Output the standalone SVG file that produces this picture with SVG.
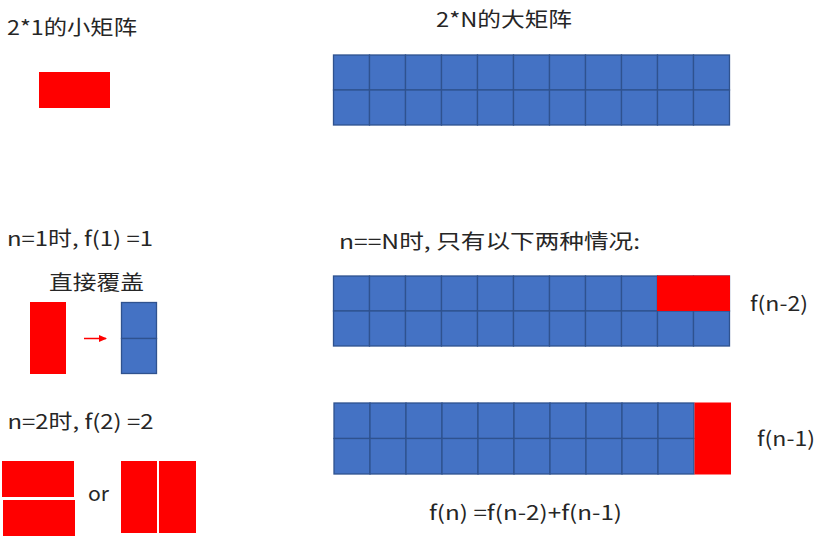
<svg xmlns="http://www.w3.org/2000/svg" width="819" height="550" viewBox="0 0 819 550">
<defs>
<style>
.t{font-family:"Noto Sans CJK SC","Liberation Sans",sans-serif;fill:#262626;font-size:20px}
.c{fill:#4472C4;stroke:#2F528F;stroke-width:1.3}
.r{fill:#FF0000}
</style>
<marker id="ah" markerWidth="8" markerHeight="8" refX="7" refY="4" orient="auto" markerUnits="userSpaceOnUse">
<path d="M0,0.5 L8,4 L0,7.5 Z" fill="#FF0000"/>
</marker>
<g id="row11">
<rect class="c" x="0" y="0" width="36" height="35"/>
<rect class="c" x="36" y="0" width="36" height="35"/>
<rect class="c" x="72" y="0" width="36" height="35"/>
<rect class="c" x="108" y="0" width="36" height="35"/>
<rect class="c" x="144" y="0" width="36" height="35"/>
<rect class="c" x="180" y="0" width="36" height="35"/>
<rect class="c" x="216" y="0" width="36" height="35"/>
<rect class="c" x="252" y="0" width="36" height="35"/>
<rect class="c" x="288" y="0" width="36" height="35"/>
<rect class="c" x="324" y="0" width="36" height="35"/>
<rect class="c" x="360" y="0" width="36" height="35"/>
</g>
<g id="row10">
<rect class="c" x="0" y="0" width="36" height="35.5"/>
<rect class="c" x="36" y="0" width="36" height="35.5"/>
<rect class="c" x="72" y="0" width="36" height="35.5"/>
<rect class="c" x="108" y="0" width="36" height="35.5"/>
<rect class="c" x="144" y="0" width="36" height="35.5"/>
<rect class="c" x="180" y="0" width="36" height="35.5"/>
<rect class="c" x="216" y="0" width="36" height="35.5"/>
<rect class="c" x="252" y="0" width="36" height="35.5"/>
<rect class="c" x="288" y="0" width="36" height="35.5"/>
<rect class="c" x="324" y="0" width="36" height="35.5"/>
</g>
</defs>
<rect width="819" height="550" fill="#FFFFFF"/>

<g id="small-tile">
<text class="t" x="7" y="35" font-size="21" textLength="130" lengthAdjust="spacingAndGlyphs">2*1的小矩阵</text>
<rect class="r" x="39" y="72" width="71" height="36"/>
</g>

<g id="big-grid">
<text class="t" x="436" y="27" font-size="21" textLength="136" lengthAdjust="spacingAndGlyphs">2*N的大矩阵</text>
<use href="#row11" x="333.5" y="55"/>
<use href="#row11" x="333.5" y="90"/>
</g>

<g id="case-n1">
<text class="t" x="7" y="246" textLength="146" lengthAdjust="spacingAndGlyphs">n=1时, f(1) =1</text>
<text class="t" x="49" y="290" font-size="23" textLength="95" lengthAdjust="spacingAndGlyphs">直接覆盖</text>
<rect class="r" x="30" y="302" width="36" height="72"/>
<g id="n1-target">
<rect class="c" x="121.5" y="302.5" width="35" height="36"/>
<rect class="c" x="121.5" y="338.5" width="35" height="35"/>
</g>
</g>

<g id="case-n2">
<text class="t" x="7.5" y="429" textLength="146" lengthAdjust="spacingAndGlyphs">n=2时, f(2) =2</text>
<rect class="r" x="2" y="461" width="72" height="36"/>
<rect class="r" x="3" y="500" width="72" height="36"/>
<text class="t" x="88" y="501" textLength="21" lengthAdjust="spacingAndGlyphs">or</text>
<rect class="r" x="121" y="461" width="36" height="72"/>
<rect class="r" x="159" y="461" width="37" height="72"/>
</g>

<g id="case-title">
<text class="t" x="339" y="249" textLength="301" lengthAdjust="spacingAndGlyphs">n==N时, 只有以下两种情况:</text>
</g>

<g id="grid-fn2">
<use href="#row11" x="333.5" y="276"/>
<use href="#row11" x="333.5" y="311"/>
<rect class="r" x="657" y="275.5" width="73" height="35.5"/>
<text class="t" x="750" y="311" textLength="58" lengthAdjust="spacingAndGlyphs">f(n-2)</text>
</g>

<g id="grid-fn1">
<use href="#row10" x="334" y="403"/>
<use href="#row10" x="334" y="438.5"/>
<rect class="r" x="694.5" y="402.5" width="36.5" height="72"/>
<text class="t" x="757" y="446" textLength="58" lengthAdjust="spacingAndGlyphs">f(n-1)</text>
</g>

<g id="formula">
<text class="t" x="429" y="520" textLength="193" lengthAdjust="spacingAndGlyphs">f(n) =f(n-2)+f(n-1)</text>
</g>

<g id="connectors">
<line x1="84" y1="338.5" x2="106" y2="338.5" stroke="#FF0000" stroke-width="1.5" marker-end="url(#ah)"/>
</g>
</svg>
